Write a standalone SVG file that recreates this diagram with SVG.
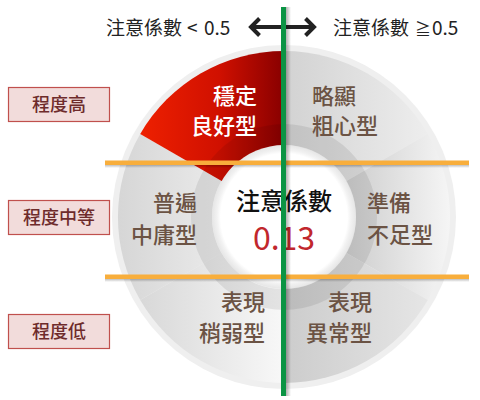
<svg xmlns="http://www.w3.org/2000/svg" width="480" height="400" viewBox="0 0 480 400">
<defs>
<style>
text{font-family:"Noto Sans CJK TC","Noto Sans",sans-serif;}
.sec{font-size:22px;fill:#6b5344;font-weight:500;}
.wsec{font-size:22px;fill:#ffffff;font-weight:500;}
.lab{font-size:18px;fill:#6e2b2b;text-anchor:middle;font-weight:500;}
.box{fill:#f2dcdb;stroke:#c0504d;stroke-width:1.2;}
.top{font-size:19px;fill:#222;}
.orange{fill:#f8ae3c;}
</style>
<linearGradient id="gRed" gradientUnits="userSpaceOnUse" x1="140" y1="0" x2="284" y2="0">
<stop offset="0" stop-color="#ee2000"/><stop offset="0.55" stop-color="#d01000"/><stop offset="1" stop-color="#880000"/>
</linearGradient>
<linearGradient id="gTR" gradientUnits="userSpaceOnUse" x1="284" y1="0" x2="430" y2="0">
<stop offset="0" stop-color="#d2d2d2"/><stop offset="1" stop-color="#eeeeee"/>
</linearGradient>
<linearGradient id="gR" gradientUnits="userSpaceOnUse" x1="340" y1="0" x2="452" y2="0">
<stop offset="0" stop-color="#cbcbcb"/><stop offset="1" stop-color="#f6f6f6"/>
</linearGradient>
<linearGradient id="gBR" gradientUnits="userSpaceOnUse" x1="284" y1="0" x2="430" y2="0">
<stop offset="0" stop-color="#cccccc"/><stop offset="1" stop-color="#e6e6e6"/>
</linearGradient>
<linearGradient id="gBL" gradientUnits="userSpaceOnUse" x1="140" y1="0" x2="284" y2="0">
<stop offset="0" stop-color="#d8d8d8"/><stop offset="1" stop-color="#f8f8f8"/>
</linearGradient>
<linearGradient id="gL" gradientUnits="userSpaceOnUse" x1="118" y1="0" x2="230" y2="0">
<stop offset="0" stop-color="#d6d6d6"/><stop offset="1" stop-color="#ececec"/>
</linearGradient>
<linearGradient id="gShV" x1="0" y1="0" x2="1" y2="0">
<stop offset="0" stop-color="#000" stop-opacity="0.3"/><stop offset="1" stop-color="#000" stop-opacity="0"/>
</linearGradient>
<linearGradient id="gShH" x1="0" y1="0" x2="0" y2="1">
<stop offset="0" stop-color="#000" stop-opacity="0.25"/><stop offset="1" stop-color="#000" stop-opacity="0"/>
</linearGradient>
<radialGradient id="gWhite" cx="284" cy="217" r="72" gradientUnits="userSpaceOnUse">
<stop offset="0" stop-color="#ffffff"/><stop offset="0.88" stop-color="#ffffff"/><stop offset="0.93" stop-color="#f2f2f2"/><stop offset="1" stop-color="#e6e6e6"/>
</radialGradient>
</defs>

<g id="wheel">
<circle cx="284" cy="217" r="172" fill="#efefef"/>
<path d="M284,217 L284,51 A166,166 0 0 1 427.8,134 Z" fill="url(#gTR)"/>
<path d="M284,217 L427.8,134 A166,166 0 0 1 427.8,300 Z" fill="url(#gR)"/>
<path d="M284,217 L427.8,300 A166,166 0 0 1 284,383 Z" fill="url(#gBR)"/>
<path d="M284,217 L284,383 A166,166 0 0 1 140.2,300 Z" fill="url(#gBL)"/>
<path d="M284,217 L140.2,300 A166,166 0 0 1 140.2,134 Z" fill="url(#gL)"/>
<path d="M284,217 L140.2,134 A166,166 0 0 1 284,51 Z" fill="url(#gRed)"/>
<circle cx="284" cy="217" r="82.5" fill="none" stroke="#000" stroke-opacity="0.08" stroke-width="21"/>
<circle cx="284" cy="217" r="72" fill="url(#gWhite)"/>
</g>

<g id="sector-labels">
<text class="wsec" x="257" y="104" text-anchor="end">穩定</text>
<text class="wsec" x="257" y="134" text-anchor="end">良好型</text>
<text class="sec" x="312" y="104">略顯</text>
<text class="sec" x="312" y="134">粗心型</text>
<text class="sec" x="197" y="211" text-anchor="end">普遍</text>
<text class="sec" x="197" y="243" text-anchor="end">中庸型</text>
<text class="sec" x="367" y="211">準備</text>
<text class="sec" x="367" y="243">不足型</text>
<text class="sec" x="265" y="310" text-anchor="end">表現</text>
<text class="sec" x="265" y="341" text-anchor="end">稍弱型</text>
<text class="sec" x="372" y="310" text-anchor="end">表現</text>
<text class="sec" x="372" y="341" text-anchor="end">異常型</text>
</g>

<g id="center">
<text x="284" y="210" text-anchor="middle" font-size="24" font-weight="500" fill="#111">注意係數</text>
<text x="284" y="250" text-anchor="middle" font-size="32" fill="#c1272d">0.13</text>
</g>

<g id="levels">
<g id="level-high"><rect class="box" x="8.5" y="87.5" width="101" height="34"/><text class="lab" x="59" y="111">程度高</text></g>
<g id="level-mid"><rect class="box" x="8.5" y="200.5" width="101" height="34"/><text class="lab" x="59" y="224">程度中等</text></g>
<g id="level-low"><rect class="box" x="8.5" y="314.5" width="101" height="34"/><text class="lab" x="59" y="338">程度低</text></g>
</g>

<g id="connectors">
<rect x="105" y="165" width="364" height="3" fill="url(#gShH)"/>
<rect class="orange" x="105" y="160.5" width="364" height="4.5"/>
<rect x="105" y="279" width="364" height="3" fill="url(#gShH)"/>
<rect class="orange" x="105" y="274.5" width="364" height="4.5"/>
<g stroke="#222" stroke-width="4" fill="none">
<line x1="252" y1="27" x2="313" y2="27"/>
<polyline points="259.5,18.5 251,27 259.5,35.5"/>
<polyline points="305.5,18.5 314,27 305.5,35.5"/>
</g>
<rect x="286" y="7" width="5" height="389" fill="url(#gShV)"/>
<rect x="281" y="7" width="5" height="389" fill="#0b9444"/>
</g>

<g id="header">
<text class="top" x="106" y="35">注意係數<tspan x="187" font-size="19">&lt;</tspan><tspan x="204">0.5</tspan></text>
<text class="top" x="333" y="35">注意係數<tspan x="415" font-size="16">≧</tspan><tspan x="432">0.5</tspan></text>
</g>
</svg>
